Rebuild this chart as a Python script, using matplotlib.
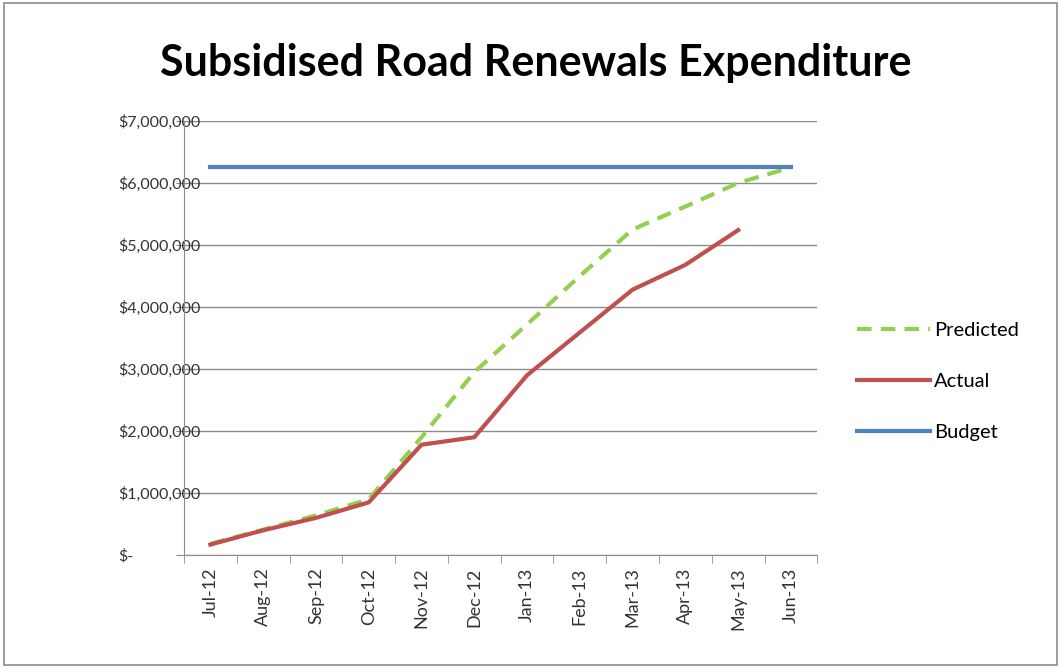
import matplotlib.pyplot as plt
from matplotlib.patches import Rectangle
from matplotlib.ticker import FixedLocator

# monthly cumulative expenditure
months = ["Jul-12", "Aug-12", "Sep-12", "Oct-12", "Nov-12", "Dec-12",
          "Jan-13", "Feb-13", "Mar-13", "Apr-13", "May-13", "Jun-13"]
predicted = [180000, 410000, 640000, 900000, 1900000, 2950000,
             3720000, 4500000, 5250000, 5620000, 6000000, 6250000]
actual = [170000, 400000, 600000, 850000, 1780000, 1900000,
          2900000, 3590000, 4280000, 4680000, 5240000]
budget = [6250000] * 12

ytick_vals = [0, 1000000, 2000000, 3000000, 4000000, 5000000, 6000000, 7000000]
ytick_labels = ["$-", "$1,000,000", "$2,000,000", "$3,000,000",
                "$4,000,000", "$5,000,000", "$6,000,000", "$7,000,000"]

plt.rcParams['font.family'] = ['Lato', 'DejaVu Sans']

fig = plt.figure(figsize=(10.61, 6.68), dpi=100)
# chart area border
fig.patches.append(Rectangle((0.004, 0.004), 0.992, 0.992, transform=fig.transFigure,
                             fill=False, edgecolor="#8c8c8c", lw=1.2))

ax = fig.add_axes([0.1734, 0.169, 0.597, 0.650])

x = list(range(len(months)))
ax.plot(x, predicted, color="#92d050", lw=3, ls=(0, (3.5, 2.2)), label="Predicted")
ax.plot(x[:len(actual)], actual, color="#c0504d", lw=3, label="Actual")
ax.plot(x, budget, color="#4f81bd", lw=3, label="Budget")

ax.set_xlim(-0.5, len(months) - 0.5)
ax.set_ylim(0, 7000000)

ax.set_yticks(ytick_vals)
ax.set_yticklabels(ytick_labels)
ax.grid(axis="y", color="#8c8c8c", lw=1)
ax.set_axisbelow(True)

ax.set_xticks(x)
ax.set_xticklabels(months, rotation=90)
ax.xaxis.set_minor_locator(FixedLocator([i + 0.5 for i in range(-1, len(months))]))
ax.tick_params(axis="x", which="major", length=0, pad=9, labelsize=13, colors="#333333")
ax.tick_params(axis="x", which="minor", length=6, color="#8c8c8c", direction="out")
ax.tick_params(axis="y", length=6, color="#8c8c8c", pad=41, labelsize=11.5, colors="#333333")
for lbl in ax.get_yticklabels():
    lbl.set_horizontalalignment("left")

for side in ["top", "right"]:
    ax.spines[side].set_visible(False)
ax.spines["left"].set_color("#8c8c8c")
ax.spines["bottom"].set_color("#8c8c8c")

fig.text(0.505, 0.905, "Subsidised Road Renewals Expenditure", ha="center", va="center",
         fontsize=31, fontweight="bold")

ax.legend(loc="center left", bbox_to_anchor=(1.05, 0.40), frameon=False,
          fontsize=14.5, handlelength=3.6, labelspacing=1.7, handletextpad=0.2,
          borderaxespad=0)

fig.savefig("out.png", dpi=100)
